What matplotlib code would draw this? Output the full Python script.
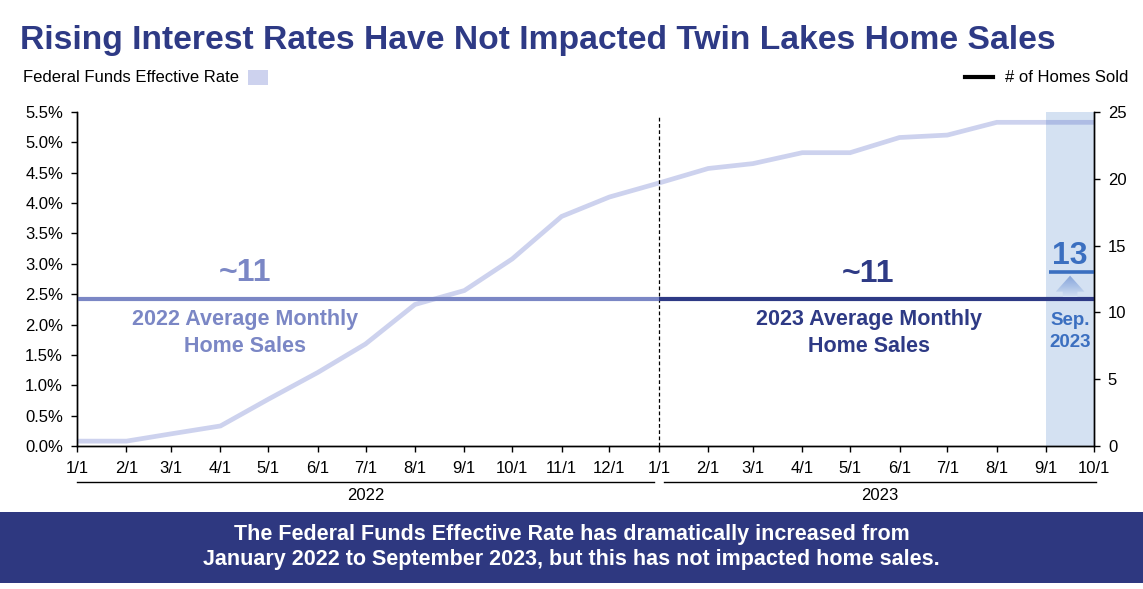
import datetime as dt
import matplotlib
matplotlib.use("Agg")
import matplotlib.pyplot as plt
import matplotlib.dates as mdates
import matplotlib.transforms as mtransforms
import numpy as np
from matplotlib.patches import Polygon, Rectangle
from matplotlib.lines import Line2D
from matplotlib.ticker import FuncFormatter, MultipleLocator
from matplotlib.colors import LinearSegmentedColormap

plt.rcParams['font.family'] = ['Liberation Sans', 'DejaVu Sans']

# data
months = [dt.date(2022, m, 1) for m in range(1, 13)] + [dt.date(2023, m, 1) for m in range(1, 11)]
month_labels = ['1/1', '2/1', '3/1', '4/1', '5/1', '6/1', '7/1', '8/1', '9/1', '10/1', '11/1', '12/1',
                '1/1', '2/1', '3/1', '4/1', '5/1', '6/1', '7/1', '8/1', '9/1', '10/1']
fed_rate = [0.08, 0.08, 0.20, 0.33, 0.77, 1.21, 1.68, 2.33, 2.56, 3.08, 3.78, 4.10,
            4.33, 4.57, 4.65, 4.83, 4.83, 5.08, 5.12, 5.33, 5.33, 5.33]
avg_sales_2022 = 11
avg_sales_2023 = 11
sep_2023_sales = 13

NAVY = '#2e3a85'
LIGHT_AVG = '#7b87c5'
SEP_BLUE = '#3b6fc0'
BAR = '#d4e1f2'

fig = plt.figure(figsize=(11.43, 5.89), dpi=100)
ax = fig.add_axes([77 / 1143, 143 / 589, 1017 / 1143, 334 / 589])
ax2 = ax.twinx()

# September 2023 highlight
sep_start, sep_end = months[-2], months[-1]
ax.axvspan(sep_start, sep_end, color=BAR, lw=0, zorder=1)

# fed funds rate
ax.plot(months, fed_rate, color='#4c5ec2', alpha=0.28, lw=3.4, zorder=2,
        solid_joinstyle='miter')

# year divider
ax.axvline(months[12], ymax=0.99, color='black', lw=0.9, ls=(0, (3, 2)), zorder=3)

# averages
ax2.plot([months[0], months[12]], [avg_sales_2022] * 2, color=LIGHT_AVG, lw=3, solid_capstyle='butt')
ax2.plot([months[12], months[-1]], [avg_sales_2023] * 2, color=NAVY, lw=3, solid_capstyle='butt')
ax2.plot([sep_start + dt.timedelta(days=2), sep_end], [sep_2023_sales] * 2, color=SEP_BLUE, lw=2.6,
         solid_capstyle='butt')

# gradient arrow from average up to Sep value
xc = mdates.date2num(dt.date(2023, 9, 16))
hw, sw = 9.0, 4.6
y0, yb, yt = avg_sales_2023 + 0.15, avg_sales_2023 + 0.55, sep_2023_sales - 0.25
arrow = Polygon([(xc - sw, y0), (xc - sw, yb), (xc - hw, yb), (xc, yt), (xc + hw, yb),
                 (xc + sw, yb), (xc + sw, y0)], closed=True, fc='none', ec='none')
ax2.add_patch(arrow)
cmap = LinearSegmentedColormap.from_list('arr', [BAR, '#a9c0e6', '#86a4da'])
im = ax2.imshow(np.linspace(0, 1, 100).reshape(-1, 1), extent=[xc - hw, xc + hw, y0, yt],
                origin='lower', cmap=cmap, aspect='auto', zorder=4)
im.set_clip_path(arrow)

ax2.text(xc, sep_2023_sales + 0.6, '13', ha='center', va='baseline', fontsize=23,
         fontweight='bold', color=SEP_BLUE)
ax2.text(xc, 8.55, 'Sep.\n2023', ha='center', va='center', fontsize=13.5, fontweight='bold',
         color=SEP_BLUE, linespacing=1.35)

# average labels
ax.text(0.165, 0.518, '~11', transform=ax.transAxes, ha='center', va='center', fontsize=23,
        fontweight='bold', color=LIGHT_AVG)
ax.text(0.165, 0.338, '2022 Average Monthly\nHome Sales', transform=ax.transAxes, ha='center',
        va='center', fontsize=15.5, fontweight='bold', color=LIGHT_AVG, linespacing=1.4)
ax.text(0.778, 0.515, '~11', transform=ax.transAxes, ha='center', va='center', fontsize=23,
        fontweight='bold', color=NAVY)
ax.text(0.779, 0.338, '2023 Average Monthly\nHome Sales', transform=ax.transAxes, ha='center',
        va='center', fontsize=15.5, fontweight='bold', color=NAVY, linespacing=1.4)

# axes styling
ax.set_ylim(0, 5.5)
ax.yaxis.set_major_locator(MultipleLocator(0.5))
ax.yaxis.set_major_formatter(FuncFormatter(lambda v, p: f'{v:.1f}%'))
ax2.set_ylim(0, 25)
ax2.yaxis.set_major_locator(MultipleLocator(5))
ax.set_xticks(months)
ax.set_xticklabels(month_labels)
ax.set_xlim(months[0], months[-1])

for a in (ax, ax2):
    a.spines['top'].set_visible(False)
    for s in a.spines.values():
        s.set_linewidth(1)
    a.tick_params(axis='both', direction='out', length=4, width=1, labelsize=12, pad=6)
ax.tick_params(axis='x', pad=7)

# year groups below the month labels
trans = mtransforms.blended_transform_factory(ax.transData, ax.transAxes)
groups = [('2022', dt.date(2022, 1, 1), dt.date(2022, 12, 29)),
          ('2023', dt.date(2023, 1, 4), dt.date(2023, 10, 2))]
for name, d0, d1 in groups:
    x0, x1 = mdates.date2num(d0), mdates.date2num(d1)
    ax.add_line(Line2D([x0, x1], [-0.108, -0.108], transform=trans, color='black', lw=1, clip_on=False))
    ax.text((x0 + x1) / 2, -0.147, name, transform=trans, ha='center', va='center', fontsize=12)

# title and legend
fig.text(20 / 1143, 1 - 40 / 589, 'Rising Interest Rates Have Not Impacted Twin Lakes Home Sales',
         fontsize=24.2, fontweight='bold', color=NAVY, va='center', ha='left')
fig.text(23 / 1143, 1 - 78 / 589, 'Federal Funds Effective Rate', fontsize=12, va='center', ha='left')
fig.add_artist(Rectangle((248 / 1143, 1 - 85 / 589), 20 / 1143, 15 / 589, transform=fig.transFigure,
                         color='#cdd2ee', lw=0))
fig.add_artist(Line2D([965 / 1143, 993 / 1143], [1 - 77 / 589] * 2, color='black', lw=3,
                      transform=fig.transFigure))
fig.text(1128 / 1143, 1 - 77 / 589, '# of Homes Sold', fontsize=12, va='center', ha='right')

# bottom banner
fig.add_artist(Rectangle((0, 6 / 589), 1, 71 / 589, transform=fig.transFigure, color='#2e3880',
                         lw=0, zorder=0))
fig.text(0.5, 1 - 547 / 589, 'The Federal Funds Effective Rate has dramatically increased from\n'
         'January 2022 to September 2023, but this has not impacted home sales.',
         color='white', fontsize=15.5, fontweight='bold', ha='center', va='center', linespacing=1.25)

fig.savefig('out.png', dpi=100)
